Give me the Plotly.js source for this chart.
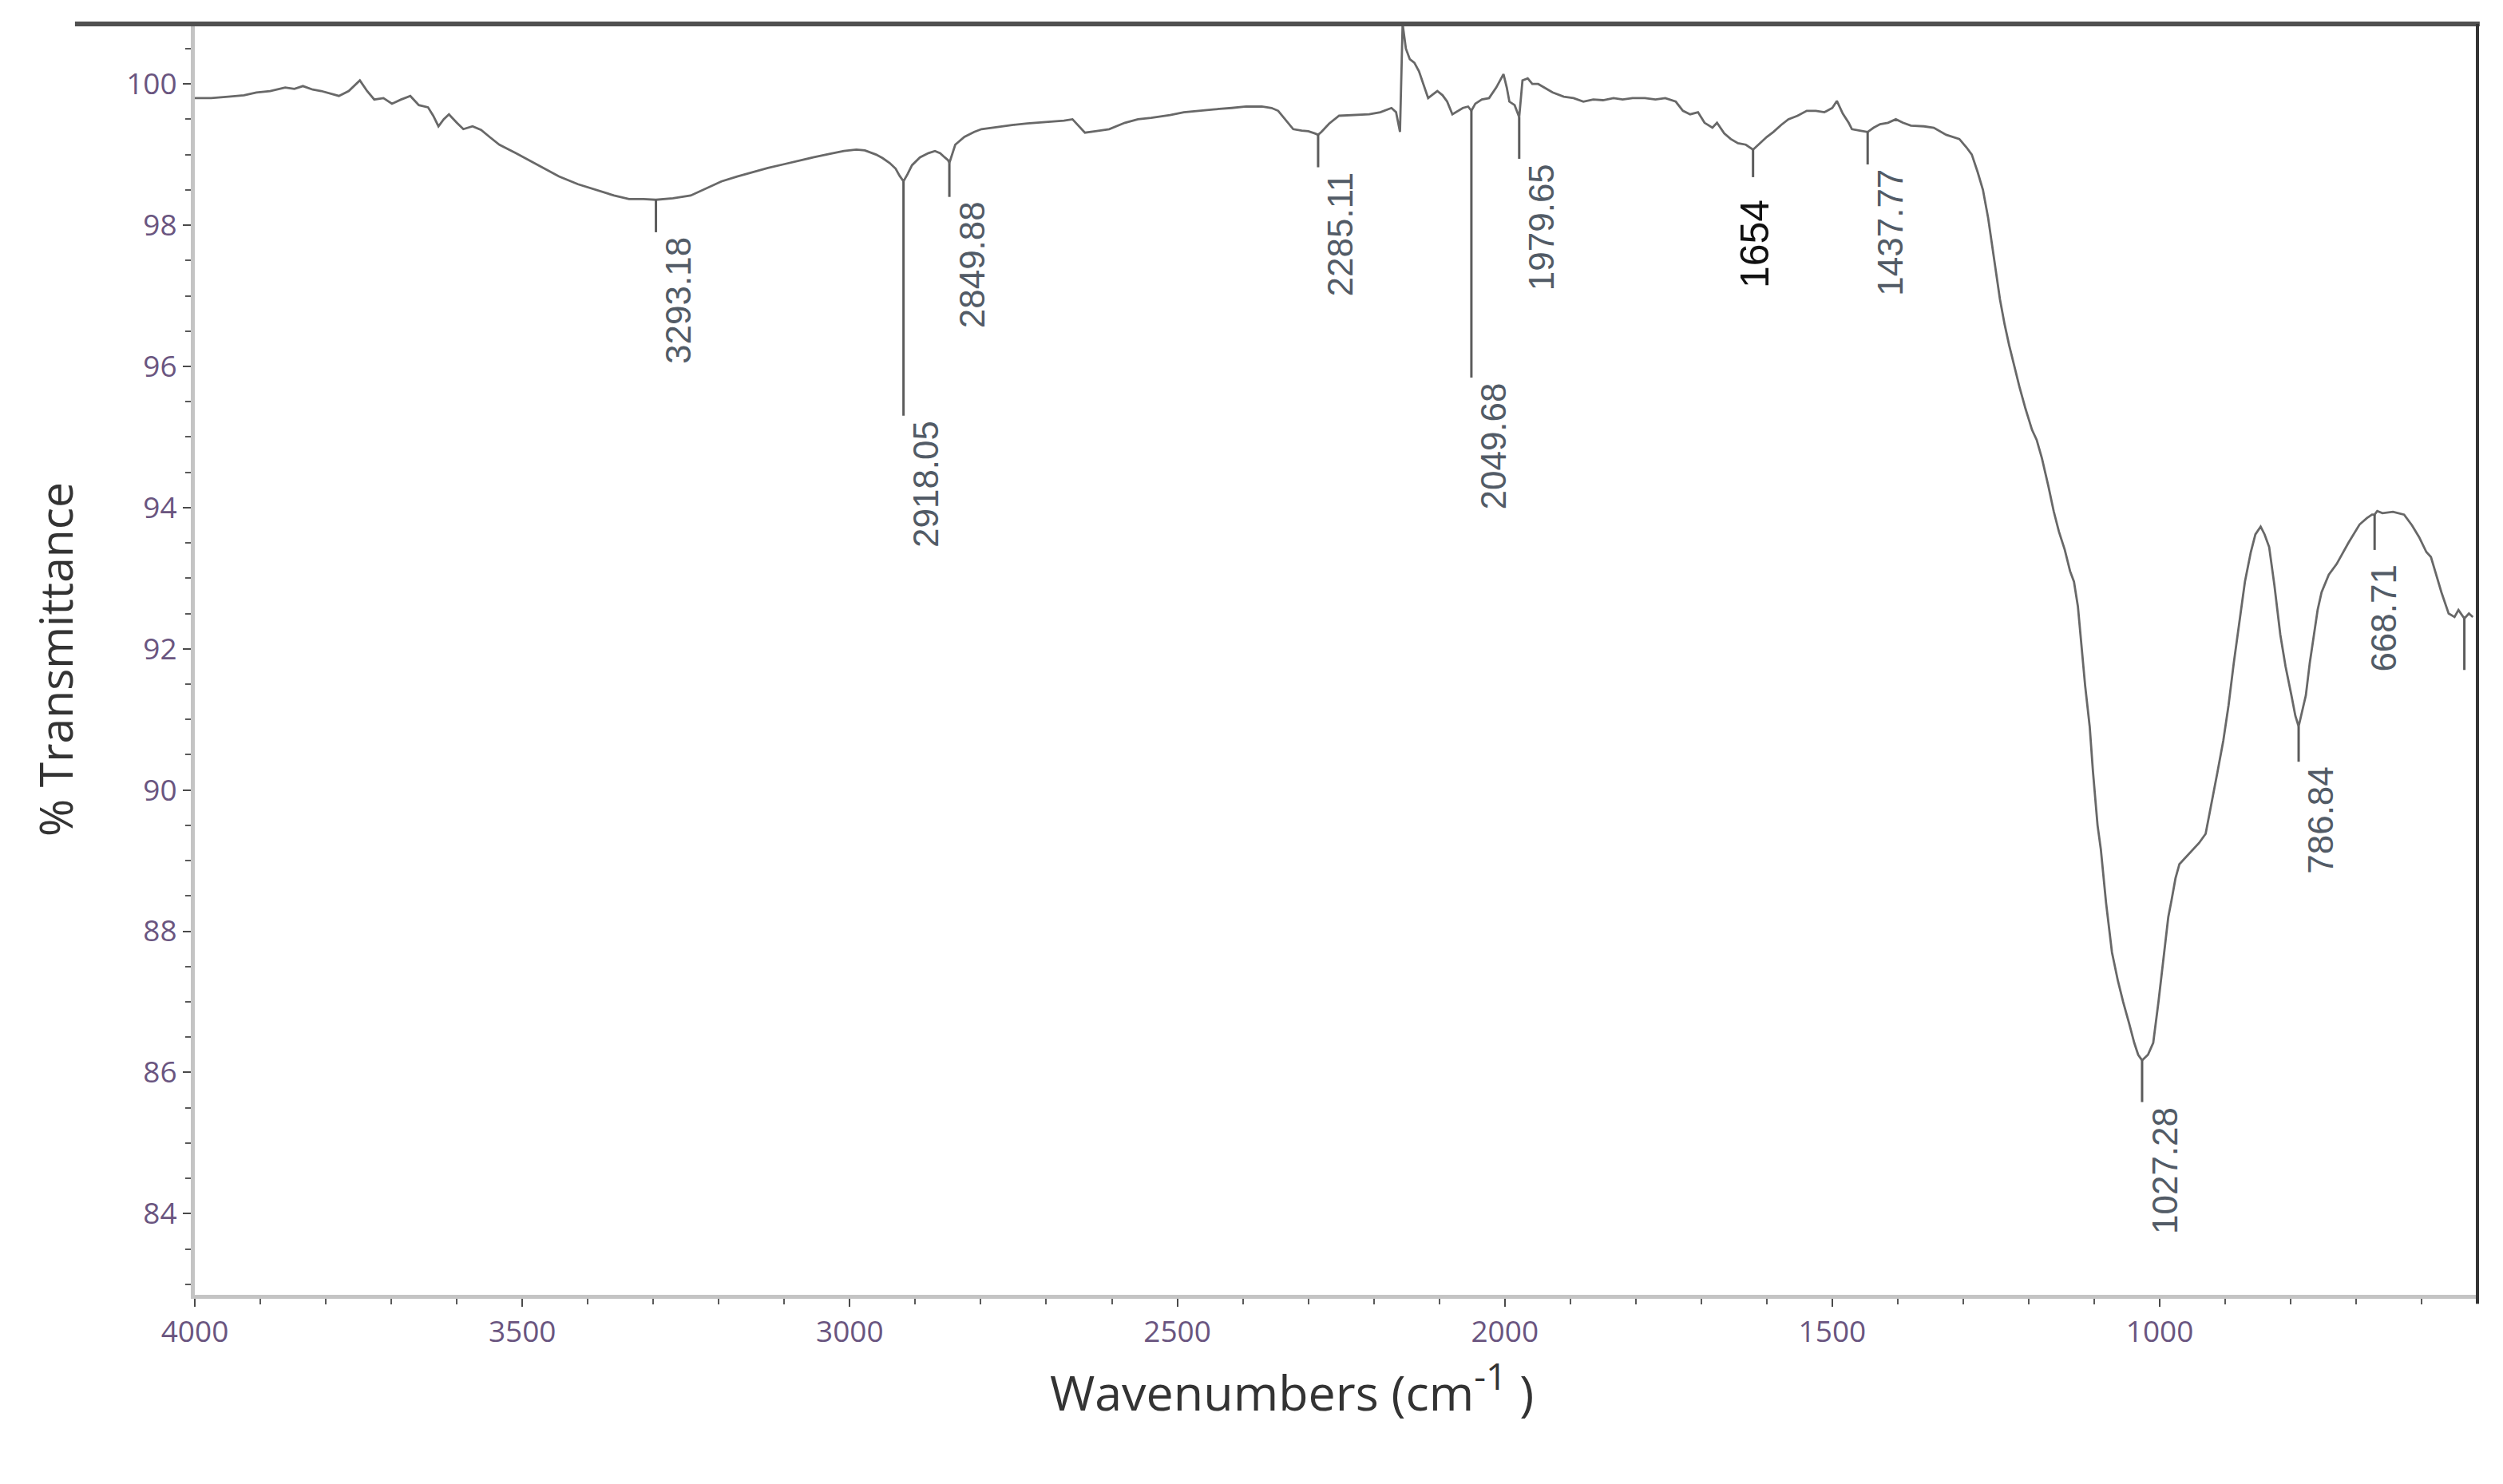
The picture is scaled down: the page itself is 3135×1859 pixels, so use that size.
<!DOCTYPE html>
<html>
<head>
<meta charset="utf-8">
<script src="https://cdn.plot.ly/plotly-3.0.1.min.js"></script>
<style>
  html, body { margin: 0; padding: 0; background: #ffffff; }
  #chart { width: 3135px; height: 1859px; }
</style>
</head>
<body>
<div id="chart"></div>
<script>
// ---------------- DATA ----------------
const wavenumber = [
  4000, 3975, 3949, 3925, 3906, 3885, 3862, 3848, 3835, 3820, 3807, 3793, 3780, 3765, 3748, 3737,
  3726, 3712, 3699, 3685, 3671, 3658, 3644, 3636, 3628, 3620, 3612, 3600, 3590, 3576, 3563, 3550,
  3535, 3510, 3480, 3444, 3415, 3383, 3360, 3337, 3315, 3296, 3270, 3243, 3220, 3196, 3172, 3149,
  3125, 3102, 3080, 3056, 3030, 3009, 2990, 2977, 2960, 2950, 2939, 2930, 2924, 2918, 2912, 2905,
  2893, 2880, 2870, 2862, 2855, 2850, 2848, 2844, 2839, 2825, 2810, 2799, 2770, 2750, 2729, 2700,
  2673, 2660, 2650, 2641, 2625, 2604, 2580, 2560, 2540, 2511, 2490, 2470, 2445, 2417, 2395, 2371,
  2356, 2346, 2335, 2323, 2310, 2300, 2290, 2285, 2280, 2268, 2253, 2230, 2207, 2190, 2173, 2166,
  2160, 2156, 2151, 2145, 2138, 2131, 2124, 2117, 2110, 2103, 2095, 2088, 2080, 2072, 2064, 2056,
  2051, 2045, 2035, 2024, 2013, 2002, 1997, 1993, 1985, 1978, 1973, 1965, 1958, 1949, 1938, 1927,
  1910, 1895, 1880, 1865, 1850, 1834, 1820, 1805, 1786, 1770, 1755, 1739, 1728, 1717, 1705, 1695,
  1683, 1676, 1665, 1655, 1644, 1632, 1621, 1613, 1600, 1590, 1578, 1567, 1553, 1539, 1525, 1512,
  1500, 1493, 1484, 1475, 1470, 1458, 1446, 1437, 1427, 1415, 1403, 1392, 1380, 1360, 1345, 1326,
  1306, 1295, 1287, 1278, 1270, 1262, 1256, 1250, 1244, 1237, 1230, 1222, 1214, 1205, 1195, 1188,
  1180, 1170, 1162, 1154, 1145, 1137, 1131, 1125, 1119, 1114, 1107, 1102, 1095, 1090, 1082, 1073,
  1064, 1056, 1047, 1039, 1033, 1027, 1018, 1010, 1002, 993, 987, 982, 976, 970, 960, 949,
  940, 930, 921, 912, 903, 895, 887, 878, 870, 861, 854, 846, 840, 833, 825, 816,
  808, 799, 793, 788, 782, 777, 771, 765, 759, 753, 742, 730, 712, 695, 684, 676,
  672, 668, 660, 644, 627, 615, 604, 593, 586, 579, 570, 559, 550, 544, 535, 528,
  522
];
const transmittance = [
  99.80, 99.80, 99.82, 99.84, 99.88, 99.90, 99.95, 99.93, 99.97, 99.92, 99.90, 99.86, 99.83, 99.90, 100.05, 99.90,
  99.78, 99.80, 99.72, 99.78, 99.83, 99.70, 99.67, 99.55, 99.40, 99.50, 99.57, 99.45, 99.36, 99.40, 99.35, 99.25,
  99.14, 99.02, 98.87, 98.69, 98.58, 98.49, 98.42, 98.37, 98.37, 98.36, 98.38, 98.42, 98.52, 98.62, 98.69, 98.75,
  98.81, 98.86, 98.91, 98.96, 99.01, 99.05, 99.07, 99.06, 99.00, 98.95, 98.88, 98.80, 98.70, 98.62, 98.72, 98.85,
  98.96, 99.02, 99.05, 99.02, 98.96, 98.92, 98.88, 99.00, 99.14, 99.25, 99.32, 99.36, 99.40, 99.42, 99.44, 99.46,
  99.48, 99.50, 99.40, 99.31, 99.33, 99.36, 99.45, 99.50, 99.52, 99.56, 99.60, 99.62, 99.64, 99.66, 99.68, 99.68,
  99.66, 99.62, 99.50, 99.36, 99.34, 99.33, 99.30, 99.28, 99.32, 99.44, 99.55, 99.56, 99.57, 99.60, 99.66, 99.60,
  99.32, 100.85, 100.50, 100.35, 100.30, 100.18, 100.00, 99.80, 99.85, 99.90, 99.84, 99.75, 99.57, 99.62, 99.66, 99.68,
  99.62, 99.72, 99.78, 99.80, 99.95, 100.14, 99.95, 99.75, 99.70, 99.53, 100.05, 100.08, 100.00, 100.00, 99.94, 99.88,
  99.82, 99.80, 99.75, 99.78, 99.77, 99.80, 99.78, 99.80, 99.80, 99.78, 99.80, 99.75, 99.62, 99.57, 99.60, 99.45,
  99.38, 99.45, 99.30, 99.22, 99.16, 99.14, 99.07, 99.14, 99.25, 99.32, 99.42, 99.50, 99.55, 99.62, 99.62, 99.60,
  99.66, 99.76, 99.58, 99.45, 99.36, 99.34, 99.32, 99.38, 99.43, 99.45, 99.50, 99.45, 99.41, 99.40, 99.38, 99.28,
  99.22, 99.10, 99.00, 98.75, 98.50, 98.10, 97.70, 97.30, 96.95, 96.60, 96.30, 96.00, 95.70, 95.40, 95.10, 94.96,
  94.70, 94.30, 93.95, 93.66, 93.40, 93.10, 92.95, 92.60, 92.00, 91.48, 90.90, 90.26, 89.50, 89.16, 88.40, 87.70,
  87.30, 87.00, 86.70, 86.42, 86.25, 86.17, 86.25, 86.42, 87.00, 87.70, 88.20, 88.44, 88.75, 88.95, 89.05, 89.15,
  89.25, 89.38, 89.80, 90.25, 90.70, 91.20, 91.80, 92.43, 92.95, 93.37, 93.62, 93.73, 93.62, 93.44, 92.90, 92.20,
  91.75, 91.34, 91.05, 90.90, 91.15, 91.34, 91.80, 92.20, 92.55, 92.80, 93.05, 93.20, 93.50, 93.76, 93.85, 93.90,
  93.90, 93.95, 93.92, 93.94, 93.90, 93.75, 93.58, 93.37, 93.30, 93.08, 92.80, 92.50, 92.45, 92.55, 92.43, 92.50,
  92.45
];

// Peak annotations: label text, wavenumber where the marker is drawn,
// marker top (on the curve) and marker bottom (%T)
const peakLabels     = ["3293.18", "2918.05", "2849.88", "2285.11", "2049.68", "1979.65", "1654", "1437.77", "1027.28", "786.84", "668.71", ""];
const peakWavenumber = [3296, 2918, 2848, 2285, 2051, 1978, 1621, 1446, 1027, 788, 672, 535];
const peakTop        = [98.36, 98.62, 98.88, 99.28, 99.62, 99.53, 99.07, 99.32, 86.17, 90.90, 93.90, 92.43];
const peakBottom     = [97.90, 95.30, 98.40, 98.82, 95.84, 98.94, 98.68, 98.86, 85.58, 90.40, 93.40, 91.70];

// Axis ticks
const xTickValues = [4000, 3500, 3000, 2500, 2000, 1500, 1000];
const xTickLabels = ["4000", "3500", "3000", "2500", "2000", "1500", "1000"];
const yTickValues = [84, 86, 88, 90, 92, 94, 96, 98, 100];
const yTickLabels = ["84", "86", "88", "90", "92", "94", "96", "98", "100"];

// ---------------- BUILD ----------------
const markerX = [], markerY = [];
peakWavenumber.forEach((w, i) => {
  markerX.push(w, w, null);
  markerY.push(peakTop[i], peakBottom[i], null);
});

const spectrum = {
  x: wavenumber, y: transmittance, type: 'scatter', mode: 'lines',
  line: { color: '#686868', width: 2.8 }, hoverinfo: 'skip'
};
const markers = {
  x: markerX, y: markerY, type: 'scatter', mode: 'lines',
  line: { color: '#5c5c5c', width: 3 }, hoverinfo: 'skip', connectgaps: false
};

// label placement styles (pixels), keyed by label
const labelStyle = {
  "1654":   { xshift: 3,  yshift: -26, size: 50, color: '#111111' },
  "668.71": { xshift: 11, yshift: -16 }
};
const annotations = [];
peakLabels.forEach((t, i) => {
  if (!t) return;
  const s = labelStyle[t] || {};
  annotations.push({
    x: peakWavenumber[i], y: peakBottom[i], xref: 'x', yref: 'y',
    text: t, showarrow: false, textangle: -90,
    xanchor: 'center', yanchor: 'top',
    xshift: s.xshift !== undefined ? s.xshift : 28,
    yshift: s.yshift !== undefined ? s.yshift : -4,
    font: { family: 'Liberation Sans, Arial, sans-serif', size: s.size || 44, color: s.color || '#525b66' }
  });
});

const tickFont = { family: 'Open Sans, sans-serif', size: 37, color: '#6a5580' };
const xTitleText = 'Wavenumbers (cm<sup><span style="font-size:46px">-1</span></sup> )' +
                   '&nbsp;&nbsp;&nbsp;&nbsp;&nbsp;&nbsp;&nbsp;';

const layout = {
  width: 3135, height: 1859,
  margin: { l: 244, r: 32, t: 30, b: 237, pad: 0 },
  paper_bgcolor: '#ffffff', plot_bgcolor: '#ffffff',
  showlegend: false,
  font: { family: 'Open Sans, sans-serif', color: '#333333' },
  xaxis: {
    range: [4000, 515],
    tickmode: 'array', tickvals: xTickValues, ticktext: xTickLabels,
    ticks: 'outside', ticklen: 10, tickwidth: 2, tickcolor: '#4a4a4a',
    minor: { dtick: 100, ticks: 'outside', ticklen: 7, tickwidth: 2, tickcolor: '#5a5a5a' },
    showline: true, linecolor: '#c4c4c4', linewidth: 5, mirror: false,
    showgrid: false, zeroline: false,
    tickfont: tickFont,
    title: { text: xTitleText, font: { family: 'Open Sans, sans-serif', size: 61, color: '#333333' }, standoff: 34 }
  },
  yaxis: {
    range: [82.85, 100.85],
    tickmode: 'array', tickvals: yTickValues, ticktext: yTickLabels,
    ticks: 'outside', ticklen: 10, tickwidth: 2, tickcolor: '#4a4a4a',
    minor: { dtick: 0.5, ticks: 'outside', ticklen: 7, tickwidth: 2, tickcolor: '#5a5a5a' },
    showline: true, linecolor: '#c4c4c4', linewidth: 5,
    showgrid: false, zeroline: false,
    tickfont: tickFont,
    title: { text: '% Transmittance', font: { family: 'Open Sans, sans-serif', size: 57, color: '#333333' }, standoff: 50 }
  },
  annotations: annotations,
  shapes: [
    // top frame line (extends left past the y axis, as in the original)
    { type: 'line', xref: 'paper', yref: 'paper', x0: -0.0525, x1: 1.001, y0: 1, y1: 1,
      line: { color: '#505050', width: 6 } },
    // right frame line
    { type: 'line', xref: 'paper', yref: 'paper', x0: 1, x1: 1, y0: 1, y1: -0.007,
      line: { color: '#333333', width: 4 } }
  ]
};

Plotly.newPlot('chart', [spectrum, markers], layout, { staticPlot: true, displayModeBar: false });
</script>
</body>
</html>
